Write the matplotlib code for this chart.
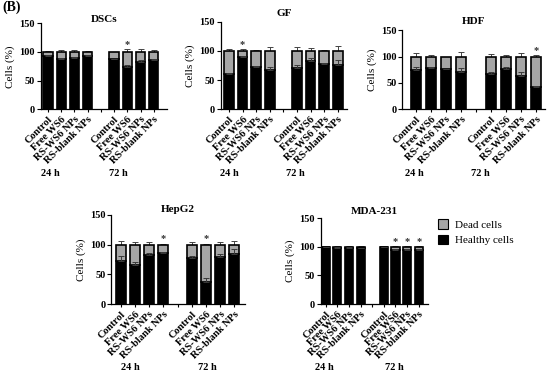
import matplotlib
matplotlib.use("Agg")
import matplotlib.pyplot as plt
from matplotlib.patches import Patch
from matplotlib.transforms import blended_transform_factory
import numpy as np

plt.rcParams["font.family"] = ["Liberation Serif", "DejaVu Serif"]
plt.rcParams["font.weight"] = "bold"

W, H = 550, 376

GROUPS = ["Control", "Free WS6", "RS-WS6 NPs", "RS-blank NPs"]
TIMES = ["24 h", "72 h"]
SERIES = ["Dead cells", "Healthy cells"]

# healthy cells (%) per bar: 24 h x4, then 72 h x4; dead = 100 - healthy
DSC_HEALTHY = [93, 88, 89, 93, 87, 73, 83, 86]
DSC_HEALTHY_ERR = [1, 2, 2, 1, 0, 4, 3, 2]
DSC_TOTAL_ERR = [1, 3, 3, 1, 0, 5, 5, 3]
DSC_STARS = [5]

GF_HEALTHY = [60, 89, 72, 67, 70, 83, 77, 75]
GF_HEALTHY_ERR = [3, 2, 2, 5, 6, 5, 2, 9]
GF_TOTAL_ERR = [3, 3, 2, 6, 6, 5, 1, 9]
GF_STARS = [1]

HDF_HEALTHY = [74, 78, 76, 71, 67, 76, 64, 43]
HDF_HEALTHY_ERR = [6, 3, 0, 7, 4, 4, 7, 2]
HDF_TOTAL_ERR = [6, 3, 0, 8, 5, 4, 7, 3]
HDF_STARS = [7]

HEPG2_HEALTHY = [73, 66, 82, 86, 77, 37, 80, 85]
HEPG2_HEALTHY_ERR = [8, 5, 4, 2, 4, 7, 4, 7]
HEPG2_TOTAL_ERR = [6, 5, 5, 1, 4, 1, 4, 7]
HEPG2_STARS = [3, 5]

MDA_HEALTHY = [99, 98, 98, 97, 99, 94, 94, 94]
MDA_HEALTHY_ERR = [0, 1, 1, 1, 0, 2, 2, 2]
MDA_TOTAL_ERR = [0, 1, 1, 1, 0, 1, 1, 1]
MDA_STARS = [5, 6, 7]

POS = [0, 1, 2, 3, 5, 6, 7, 8]

# name, data, axes box in px (left, top, right, bottom), xlim, group label x, title y, group label y
PANELS = [
    ("DSCs", DSC_HEALTHY, DSC_HEALTHY_ERR, DSC_TOTAL_ERR, DSC_STARS,
     (40.7, 23.3, 167, 109.3), (-0.55, 9.0), (0.15, 5.3), 20, 174),
    ("GF", GF_HEALTHY, GF_HEALTHY_ERR, GF_TOTAL_ERR, GF_STARS,
     (220.7, 21.7, 347, 109.3), (-0.61, 8.68), (0.0, 4.9), 14, 174),
    ("HDF", HDF_HEALTHY, HDF_HEALTHY_ERR, HDF_TOTAL_ERR, HDF_STARS,
     (402, 30.3, 545, 109.3), (-0.93, 8.6), (-0.1, 4.3), 22, 174),
    ("HepG2", HEPG2_HEALTHY, HEPG2_HEALTHY_ERR, HEPG2_TOTAL_ERR, HEPG2_STARS,
     (111, 215, 245, 304), (-0.68, 8.75), (0.65, 6.1), 210, 367),
    ("MDA-231", MDA_HEALTHY, MDA_HEALTHY_ERR, MDA_TOTAL_ERR, MDA_STARS,
     (320.7, 218, 428, 304), (-0.43, 8.8), (-0.1, 5.9), 211, 367),
]

DEAD_C = "#a6a6a6"
LIVE_C = "#000000"

fig = plt.figure(figsize=(W / 100, H / 100), dpi=100)

ticklabels = GROUPS + [""] + GROUPS

for name, healthy, herr, terr, stars, box, xlim, glx, ty, gy in PANELS:
    l, t, r, b = box
    ax = fig.add_axes([l / W, 1 - b / H, (r - l) / W, (b - t) / H])
    healthy = np.array(healthy, dtype=float)
    dead = 100 - healthy
    zeros = np.zeros(len(POS))
    ax.bar(POS, healthy, width=0.7, color=LIVE_C, edgecolor="black", linewidth=1.2, zorder=2)
    ax.bar(POS, dead, bottom=healthy, width=0.7, color=DEAD_C, edgecolor="black",
           linewidth=1.2, zorder=2)
    ax.errorbar(POS, healthy, yerr=[zeros, herr], fmt="none", ecolor="#3a3a3a",
                elinewidth=0.7, capsize=2, capthick=0.7, zorder=3)
    ax.errorbar(POS, np.full(len(POS), 100.0), yerr=[zeros, terr], fmt="none",
                ecolor="#444444", elinewidth=0.7, capsize=2, capthick=0.7, zorder=1)
    for s in stars:
        ax.text(POS[s], 100 + terr[s] + 1, "*", ha="center", va="bottom",
                fontsize=7.5, color="#333333")

    ax.set_xlim(*xlim)
    ax.set_ylim(0, 150)
    ax.set_yticks([0, 50, 100, 150])
    ax.set_xticks(range(9))
    ax.set_xticklabels(ticklabels, rotation=45, ha="right", rotation_mode="anchor",
                       fontsize=7.5)
    ax.tick_params(axis="y", labelsize=7.5, length=3, width=0.8, pad=1)
    ax.tick_params(axis="x", length=2.5, width=0.8, pad=1.5)
    for sp in ("top", "right"):
        ax.spines[sp].set_visible(False)
    for sp in ("left", "bottom"):
        ax.spines[sp].set_linewidth(0.9)
    ax.set_ylabel("Cells (%)", fontsize=8, labelpad=3)

    fig.text((l + r) / 2 / W, 1 - ty / H, name, ha="center", va="center", fontsize=8)
    trans = blended_transform_factory(ax.transData, fig.transFigure)
    for x, lab in zip(glx, TIMES):
        ax.text(x, 1 - gy / H, lab, transform=trans, ha="center", va="center",
                fontsize=7.5)

handles = [Patch(facecolor=DEAD_C, edgecolor="black", linewidth=0.8),
           Patch(facecolor=LIVE_C, edgecolor="black", linewidth=0.8)]
fig.legend(handles, SERIES, loc="upper left", bbox_to_anchor=(434 / W, 1 - 215 / H),
           frameon=False, prop={"size": 8, "weight": "normal"}, handlelength=0.9,
           handleheight=0.9, handletextpad=0.6, labelspacing=0.45, borderaxespad=0)

fig.text(2 / W, 1 - 7 / H, "(B)", ha="left", va="center", fontsize=10)

fig.savefig("out.png", dpi=100)
